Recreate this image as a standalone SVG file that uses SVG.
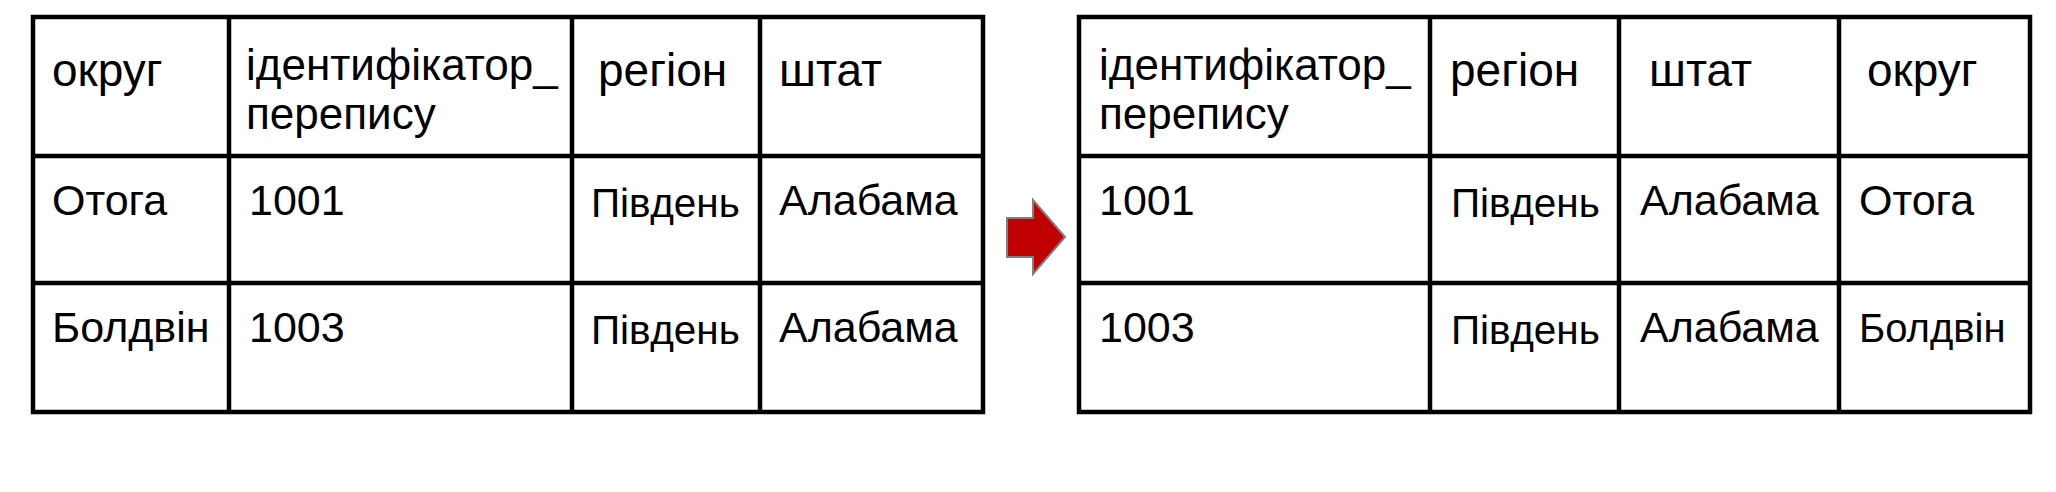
<svg xmlns="http://www.w3.org/2000/svg" width="2056" height="492" viewBox="0 0 2056 492">
<style>
.g line{stroke:#000;stroke-width:4.5}
.g rect{fill:#fff;stroke:#000;stroke-width:4.5}
text{font-family:"Liberation Sans",Arial,sans-serif;font-size:43px;fill:#000}
.h{font-size:46px}
.i{font-size:44px}
.s{font-size:40.5px}
.b{font-size:40px}
</style>
<rect width="2056" height="492" fill="#fff"/>
<g id="table-left" class="g">
<rect x="33" y="17" width="950" height="395"/>
<line x1="229" y1="17" x2="229" y2="412"/><line x1="572" y1="17" x2="572" y2="412"/><line x1="760" y1="17" x2="760" y2="412"/>
<line x1="33" y1="156" x2="983" y2="156"/><line x1="33" y1="283" x2="983" y2="283"/>
<text class="h" x="52" y="86">округ</text>
<text class="i" x="246" y="80">ідентифікатор_</text><text class="i" x="246" y="129">перепису</text>
<text class="h" x="598" y="86">регіон</text>
<text class="h" x="779" y="86">штат</text>
<text x="52" y="215">Отога</text><text x="249" y="215">1001</text><text class="s" x="591" y="217">Південь</text><text x="779" y="215">Алабама</text>
<text x="52" y="342">Болдвін</text><text x="249" y="342">1003</text><text class="s" x="591" y="344">Південь</text><text x="779" y="342">Алабама</text>
</g>
<g id="connectors">
<polygon points="1007,218 1033,218 1033,200 1065,237 1033,274 1033,257 1007,257" fill="#c00000" stroke="#7f7f7f" stroke-width="2"/>
</g>
<g id="table-right" class="g">
<rect x="1079" y="17" width="951" height="395"/>
<line x1="1430" y1="17" x2="1430" y2="412"/><line x1="1619" y1="17" x2="1619" y2="412"/><line x1="1839" y1="17" x2="1839" y2="412"/>
<line x1="1079" y1="156" x2="2030" y2="156"/><line x1="1079" y1="283" x2="2030" y2="283"/>
<text class="i" x="1099" y="80">ідентифікатор_</text><text class="i" x="1099" y="129">перепису</text>
<text class="h" x="1450" y="86">регіон</text>
<text class="h" x="1649" y="86">штат</text>
<text class="h" x="1867" y="86">округ</text>
<text x="1099" y="215">1001</text><text class="s" x="1451" y="217">Південь</text><text x="1640" y="215">Алабама</text><text x="1859" y="215">Отога</text>
<text x="1099" y="342">1003</text><text class="s" x="1451" y="344">Південь</text><text x="1640" y="342">Алабама</text><text class="b" x="1859" y="342">Болдвін</text>
</g>
</svg>
